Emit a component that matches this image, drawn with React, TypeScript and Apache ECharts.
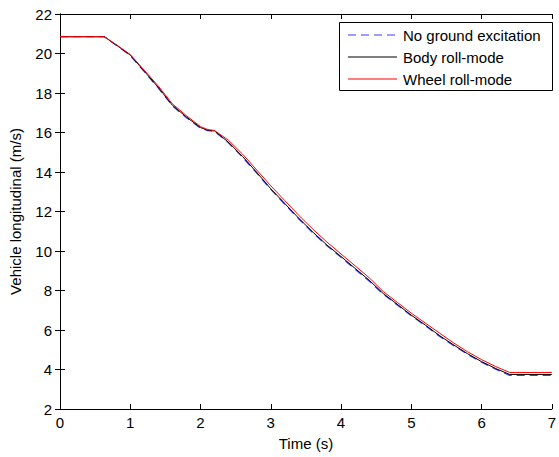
import React, { useEffect, useRef } from "react";
import * as echarts from "echarts";

const times = [0, 0.63, 0.8, 1.0, 1.2, 1.4, 1.6, 1.8, 2.0, 2.1, 2.2, 2.4, 2.6, 2.8, 3.0, 3.2, 3.4, 3.6, 3.8, 4.0, 4.2, 4.4, 4.6, 4.8, 5.0, 5.2, 5.4, 5.6, 5.8, 6.0, 6.2, 6.4, 7.0];
const noGround = [20.85, 20.85, 20.42, 19.9, 19.08, 18.25, 17.35, 16.75, 16.22, 16.1, 16.06, 15.47, 14.74, 13.95, 13.12, 12.37, 11.62, 10.92, 10.27, 9.68, 9.08, 8.48, 7.82, 7.27, 6.72, 6.22, 5.69, 5.22, 4.77, 4.37, 4.02, 3.7, 3.7];
const bodyRoll = [20.85, 20.85, 20.43, 19.92, 19.1, 18.28, 17.38, 16.78, 16.25, 16.12, 16.08, 15.5, 14.78, 13.98, 13.15, 12.4, 11.65, 10.95, 10.3, 9.72, 9.12, 8.52, 7.85, 7.3, 6.75, 6.25, 5.72, 5.25, 4.8, 4.4, 4.05, 3.75, 3.75];
const wheelRoll = [20.85, 20.85, 20.45, 19.95, 19.15, 18.35, 17.45, 16.85, 16.3, 16.15, 16.1, 15.6, 14.9, 14.1, 13.3, 12.55, 11.8, 11.1, 10.45, 9.85, 9.25, 8.65, 7.95, 7.4, 6.85, 6.35, 5.85, 5.35, 4.9, 4.5, 4.15, 3.85, 3.85];

const seriesNames = ["No ground excitation", "Body roll-mode", "Wheel roll-mode"];
const seriesColors = ["#3a3aff", "#000000", "#ff0000"];
const seriesDash: (number[] | "solid")[] = [[8, 5], "solid", "solid"];
const xTicks = { min: 0, max: 7, interval: 1 };
const yTicks = { min: 2, max: 22, interval: 2 };

const pair = (vals: number[]) => times.map((t, i) => [t, vals[i]]);

export default function App() {
  const ref = useRef<HTMLDivElement>(null);
  useEffect(() => {
    if (!ref.current) return;
    const chart = echarts.init(ref.current, undefined, { renderer: "svg" });
    const font = "Liberation Sans, Arial, sans-serif";
    const axisCommon = {
      axisLine: { show: true, lineStyle: { color: "#000", width: 1 } },
      axisTick: { show: true, inside: true, length: 5, lineStyle: { color: "#000" } },
      splitLine: { show: false },
    };
    const values = [noGround, bodyRoll, wheelRoll];

    const legendBox = { x: 339, y: 22, w: 213, h: 68 };
    const rowY = [35, 57, 79];
    const legendChildren: any[] = [
      {
        type: "rect",
        shape: { x: legendBox.x + 0.5, y: legendBox.y + 0.5, width: legendBox.w, height: legendBox.h },
        style: { fill: "#fff", stroke: "#000", lineWidth: 1 },
      },
    ];
    seriesNames.forEach((n, i) => {
      legendChildren.push({
        type: "line",
        shape: { x1: 348, y1: rowY[i], x2: 397, y2: rowY[i] },
        style: {
          stroke: seriesColors[i],
          lineWidth: 1.2,
          lineDash: seriesDash[i] === "solid" ? null : (seriesDash[i] as number[]),
        },
      });
      legendChildren.push({
        type: "text",
        x: 403,
        y: rowY[i],
        style: {
          text: n,
          fill: "#000",
          font: `15px ${font}`,
          verticalAlign: "middle",
          align: "left",
        },
      });
    });

    chart.setOption({
      animation: false,
      backgroundColor: "#fff",
      grid: { left: 57, top: 14, right: 2, bottom: 48, containLabel: false },
      graphic: [{ type: "group", z: 100, children: legendChildren }],
      xAxis: [
        {
          type: "value",
          position: "bottom",
          ...xTicks,
          ...axisCommon,
          axisLabel: { color: "#000", fontFamily: font, fontSize: 15, margin: 6 },
          name: "Time (s)",
          nameLocation: "middle",
          nameGap: 27,
          nameTextStyle: { color: "#000", fontFamily: font, fontSize: 15 },
        },
        {
          type: "value",
          position: "top",
          ...xTicks,
          ...axisCommon,
          axisLabel: { show: false },
        },
      ],
      yAxis: [
        {
          type: "value",
          position: "left",
          ...yTicks,
          ...axisCommon,
          axisLabel: { color: "#000", fontFamily: font, fontSize: 15, margin: 8 },
          name: "Vehicle longitudinal (m/s)",
          nameLocation: "middle",
          nameGap: 37,
          nameTextStyle: { color: "#000", fontFamily: font, fontSize: 15 },
        },
        {
          type: "value",
          position: "right",
          ...yTicks,
          ...axisCommon,
          axisLabel: { show: false },
        },
      ],
      series: seriesNames.map((n, i) => ({
        name: n,
        type: "line",
        data: pair(values[i]),
        symbol: "none",
        lineStyle: { color: seriesColors[i], width: i === 0 ? 1.3 : 1, type: seriesDash[i] },
        itemStyle: { color: seriesColors[i] },
        z: i + 1,
      })),
    });
    return () => chart.dispose();
  }, []);
  return (
    <div
      ref={ref}
      style={{ position: "fixed", left: 0, top: 0, width: 559, height: 457 }}
    />
  );
}
